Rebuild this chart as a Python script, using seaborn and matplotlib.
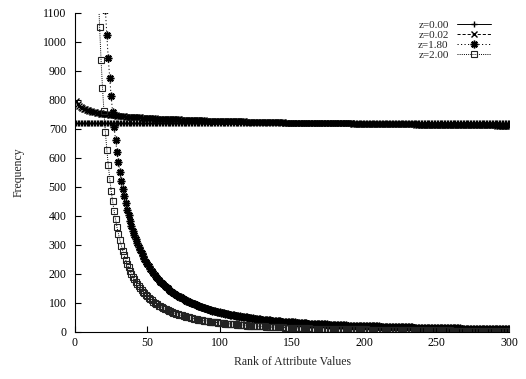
import numpy as np
import pandas as pd
import matplotlib
matplotlib.use("Agg")
import matplotlib.pyplot as plt
import seaborn as sns

# ---------------- data ----------------
ranks = list(range(1, 301))

labels = ["z=0.00", "z=0.02", "z=1.80", "z=2.00"]

freq_z000 = [
    718, 718, 718, 718, 718, 718, 718, 718, 718, 718,
    718, 718, 718, 718, 718, 718, 718, 718, 718, 718,
    718, 718, 718, 718, 718, 718, 718, 718, 718, 718,
    718, 718, 718, 718, 718, 718, 718, 718, 718, 718,
    718, 718, 718, 718, 718, 718, 718, 718, 718, 718,
    718, 718, 718, 718, 718, 718, 718, 718, 718, 718,
    718, 718, 718, 718, 718, 718, 718, 718, 718, 718,
    718, 718, 718, 718, 718, 718, 718, 718, 718, 718,
    718, 718, 718, 718, 718, 718, 718, 718, 718, 718,
    718, 718, 718, 718, 718, 718, 718, 718, 718, 718,
    718, 718, 718, 718, 718, 718, 718, 718, 718, 718,
    718, 718, 718, 718, 718, 718, 718, 718, 718, 718,
    718, 718, 718, 718, 718, 718, 718, 718, 718, 718,
    718, 718, 718, 718, 718, 718, 718, 718, 718, 718,
    718, 718, 718, 718, 718, 718, 718, 718, 718, 718,
    718, 718, 718, 718, 718, 718, 718, 718, 718, 718,
    718, 718, 718, 718, 718, 718, 718, 718, 718, 718,
    718, 718, 718, 718, 718, 718, 718, 718, 718, 718,
    718, 718, 718, 718, 718, 718, 718, 718, 718, 718,
    718, 718, 718, 718, 718, 718, 718, 718, 718, 718,
    718, 718, 718, 718, 718, 718, 718, 718, 718, 718,
    718, 718, 718, 718, 718, 718, 718, 718, 718, 718,
    718, 718, 718, 718, 718, 718, 718, 718, 718, 718,
    718, 718, 718, 718, 718, 718, 718, 718, 718, 718,
    718, 718, 718, 718, 718, 718, 718, 718, 718, 718,
    718, 718, 718, 718, 718, 718, 718, 718, 718, 718,
    718, 718, 718, 718, 718, 718, 718, 718, 718, 718,
    718, 718, 718, 718, 718, 718, 718, 718, 718, 718,
    718, 718, 718, 718, 718, 718, 718, 718, 718, 718,
    718, 718, 718, 718, 718, 718, 718, 718, 718, 718,
]

freq_z002 = [
    797, 786, 780, 775, 772, 769, 767, 765, 763, 761,
    760, 758, 757, 756, 755, 754, 753, 752, 751, 751,
    750, 749, 749, 748, 747, 747, 746, 746, 745, 745,
    744, 744, 743, 743, 742, 742, 741, 741, 741, 740,
    740, 740, 739, 739, 739, 738, 738, 738, 737, 737,
    737, 736, 736, 736, 736, 735, 735, 735, 735, 734,
    734, 734, 734, 733, 733, 733, 733, 732, 732, 732,
    732, 732, 731, 731, 731, 731, 731, 730, 730, 730,
    730, 730, 730, 729, 729, 729, 729, 729, 729, 728,
    728, 728, 728, 728, 728, 727, 727, 727, 727, 727,
    727, 727, 726, 726, 726, 726, 726, 726, 726, 725,
    725, 725, 725, 725, 725, 725, 725, 724, 724, 724,
    724, 724, 724, 724, 724, 724, 723, 723, 723, 723,
    723, 723, 723, 723, 723, 722, 722, 722, 722, 722,
    722, 722, 722, 722, 721, 721, 721, 721, 721, 721,
    721, 721, 721, 721, 721, 720, 720, 720, 720, 720,
    720, 720, 720, 720, 720, 720, 719, 719, 719, 719,
    719, 719, 719, 719, 719, 719, 719, 719, 718, 718,
    718, 718, 718, 718, 718, 718, 718, 718, 718, 718,
    718, 717, 717, 717, 717, 717, 717, 717, 717, 717,
    717, 717, 717, 717, 717, 716, 716, 716, 716, 716,
    716, 716, 716, 716, 716, 716, 716, 716, 716, 715,
    715, 715, 715, 715, 715, 715, 715, 715, 715, 715,
    715, 715, 715, 715, 715, 714, 714, 714, 714, 714,
    714, 714, 714, 714, 714, 714, 714, 714, 714, 714,
    714, 714, 714, 713, 713, 713, 713, 713, 713, 713,
    713, 713, 713, 713, 713, 713, 713, 713, 713, 713,
    713, 712, 712, 712, 712, 712, 712, 712, 712, 712,
    712, 712, 712, 712, 712, 712, 712, 712, 712, 712,
    712, 711, 711, 711, 711, 711, 711, 711, 711, 711,
]

freq_z180 = [
    266500, 76532, 36887, 21978, 14708, 10593, 8026, 6312, 5106, 4224,
    3558, 3042, 2634, 2305, 2036, 1813, 1625, 1466, 1330, 1213,
    1111, 1022, 943, 874, 812, 756, 707, 662, 621, 585,
    551, 521, 492, 467, 443, 421, 401, 382, 365, 348,
    333, 319, 306, 293, 282, 271, 261, 251, 242, 233,
    225, 217, 210, 203, 196, 190, 184, 178, 173, 168,
    163, 158, 154, 149, 145, 141, 138, 134, 131, 127,
    124, 121, 118, 115, 112, 110, 107, 105, 102, 100,
    98, 96, 94, 92, 90, 88, 86, 84, 83, 81,
    79, 78, 76, 75, 73, 72, 71, 69, 68, 67,
    66, 65, 63, 62, 61, 60, 59, 58, 57, 56,
    55, 55, 54, 53, 52, 51, 50, 50, 49, 48,
    47, 47, 46, 45, 45, 44, 44, 43, 42, 42,
    41, 41, 40, 40, 39, 38, 38, 37, 37, 37,
    36, 36, 35, 35, 34, 34, 33, 33, 33, 32,
    32, 32, 31, 31, 30, 30, 30, 29, 29, 29,
    28, 28, 28, 27, 27, 27, 27, 26, 26, 26,
    25, 25, 25, 25, 24, 24, 24, 24, 23, 23,
    23, 23, 23, 22, 22, 22, 22, 21, 21, 21,
    21, 21, 20, 20, 20, 20, 20, 20, 19, 19,
    19, 19, 19, 19, 18, 18, 18, 18, 18, 18,
    17, 17, 17, 17, 17, 17, 17, 16, 16, 16,
    16, 16, 16, 16, 16, 15, 15, 15, 15, 15,
    15, 15, 15, 14, 14, 14, 14, 14, 14, 14,
    14, 14, 14, 13, 13, 13, 13, 13, 13, 13,
    13, 13, 13, 13, 12, 12, 12, 12, 12, 12,
    12, 12, 12, 12, 12, 12, 11, 11, 11, 11,
    11, 11, 11, 11, 11, 11, 11, 11, 11, 10,
    10, 10, 10, 10, 10, 10, 10, 10, 10, 10,
    10, 10, 10, 10, 10, 9, 9, 9, 9, 9,
]

freq_z200 = [
    304000, 76000, 33778, 19000, 12160, 8444, 6204, 4750, 3753, 3040,
    2512, 2111, 1799, 1551, 1351, 1188, 1052, 938, 842, 760,
    689, 628, 575, 528, 486, 450, 417, 388, 361, 338,
    316, 297, 279, 263, 248, 235, 222, 211, 200, 190,
    181, 172, 164, 157, 150, 144, 138, 132, 127, 122,
    117, 112, 108, 104, 100, 97, 94, 90, 87, 84,
    82, 79, 77, 74, 72, 70, 68, 66, 64, 62,
    60, 59, 57, 56, 54, 53, 51, 50, 49, 48,
    46, 45, 44, 43, 42, 41, 40, 39, 38, 38,
    37, 36, 35, 34, 34, 33, 32, 32, 31, 30,
    30, 29, 29, 28, 28, 27, 27, 26, 26, 25,
    25, 24, 24, 23, 23, 23, 22, 22, 21, 21,
    21, 20, 20, 20, 19, 19, 19, 19, 18, 18,
    18, 17, 17, 17, 17, 16, 16, 16, 16, 16,
    15, 15, 15, 15, 14, 14, 14, 14, 14, 14,
    13, 13, 13, 13, 13, 12, 12, 12, 12, 12,
    12, 12, 11, 11, 11, 11, 11, 11, 11, 11,
    10, 10, 10, 10, 10, 10, 10, 10, 9, 9,
    9, 9, 9, 9, 9, 9, 9, 9, 9, 8,
    8, 8, 8, 8, 8, 8, 8, 8, 8, 8,
    8, 7, 7, 7, 7, 7, 7, 7, 7, 7,
    7, 7, 7, 7, 7, 7, 6, 6, 6, 6,
    6, 6, 6, 6, 6, 6, 6, 6, 6, 6,
    6, 6, 6, 6, 6, 5, 5, 5, 5, 5,
    5, 5, 5, 5, 5, 5, 5, 5, 5, 5,
    5, 5, 5, 5, 5, 5, 5, 5, 5, 4,
    4, 4, 4, 4, 4, 4, 4, 4, 4, 4,
    4, 4, 4, 4, 4, 4, 4, 4, 4, 4,
    4, 4, 4, 4, 4, 4, 4, 4, 4, 4,
    4, 4, 4, 4, 3, 3, 3, 3, 3, 3,
]

x_ticks = [0, 50, 100, 150, 200, 250, 300]
y_ticks = [0, 100, 200, 300, 400, 500, 600, 700, 800, 900, 1000, 1100]
x_label = "Rank of Attribute Values"
y_label = "Frequency"

# ---------------- style ----------------
sns.set_style("ticks")
plt.rcParams["font.family"] = ["Liberation Serif", "DejaVu Serif"]
plt.rcParams["axes.linewidth"] = 0.8

FS = 8.5
LEG_FS = 8.0

fig = plt.figure(figsize=(5.26, 3.79), dpi=100)
ax = fig.add_axes([75 / 526, 1 - 331.7 / 379, 434 / 526, 319 / 379])

series = [freq_z000, freq_z002, freq_z180, freq_z200]
styles = [
    dict(marker="+", linestyle="-", markersize=5.0, mfc="black", mec="black",
         markeredgewidth=1.0),
    dict(marker="x", linestyle=(0, (3.2, 2.0)), markersize=4.2, mfc="black", mec="black",
         markeredgewidth=1.0),
    dict(marker=(8, 2, 0), linestyle=(0, (1.2, 2.4)), markersize=5.5, mfc="black",
         mec="black", markeredgewidth=1.1),
    dict(marker="s", linestyle=(0, (1.0, 1.2)), markersize=4.0, mfc="none",
         mec="#222222", markeredgewidth=0.8),
]

for lab, vals, st in zip(labels, series, styles):
    df = pd.DataFrame({"rank": ranks, "freq": vals})
    sns.lineplot(
        data=df, x="rank", y="freq", ax=ax, color="black", label=lab,
        linewidth=0.7, estimator=None, sort=False,
        **st,
    )

ax.set_xlim(0, 300)
ax.set_ylim(0, 1100)
ax.set_xticks(x_ticks)
ax.set_yticks(y_ticks)
ax.tick_params(direction="in", length=4, width=0.8, labelsize=FS, colors="black")
ax.tick_params(axis="x", pad=4)
ax.tick_params(axis="y", pad=6)
for side in ["top", "right"]:
    ax.spines[side].set_visible(False)
for side in ["left", "bottom"]:
    ax.spines[side].set_color("black")

ax.set_xlabel(x_label, fontsize=FS)
ax.set_ylabel(y_label, fontsize=FS)
ax.xaxis.set_label_coords(0.5, -0.075)
ax.yaxis.set_label_coords(-0.115, 0.5)

leg = ax.legend(
    loc="upper right", bbox_to_anchor=(497 / 526, 1 - 15 / 379),
    bbox_transform=fig.transFigure, frameon=False, markerfirst=False,
    handlelength=3.1, handletextpad=0.75, labelspacing=0.0, borderpad=0,
    fontsize=LEG_FS, numpoints=1,
)

fig.savefig("out.png", dpi=100)
